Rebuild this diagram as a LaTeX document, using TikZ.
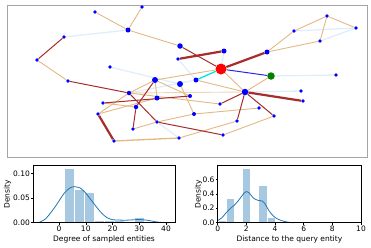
\documentclass[tikz,border=0pt]{standalone}
\usepackage{fontspec}
\setmainfont{DejaVu Sans}
\usetikzlibrary{backgrounds}
\definecolor{tanE}{RGB}{228,184,132}
\definecolor{redE}{RGB}{168,44,44}
\definecolor{lbE}{RGB}{224,237,252}
\definecolor{blueE}{RGB}{40,40,235}
\definecolor{cyanE}{RGB}{0,228,228}
\definecolor{nodeB}{RGB}{0,0,255}
\definecolor{histF}{RGB}{166,201,225}
\definecolor{kdeC}{RGB}{31,119,180}
\definecolor{frameG}{RGB}{165,165,165}
\begin{document}
\begin{tikzpicture}[x=1pt,y=-1pt,font=\fontsize{7.5}{8.5}\selectfont,
  nd/.style={circle,fill=nodeB,inner sep=0pt,minimum size=#1},
  nd/.default=3.6pt,
  te/.style={draw=tanE,line width=0.9pt},
  lte/.style={draw=tanE!60,line width=0.9pt},
  re/.style={draw=redE,line width=1pt},
  tre/.style={draw=redE,line width=2.2pt},
  le/.style={draw=lbE,line width=1.3pt},
  be/.style={draw=blueE,line width=1pt},
  ce/.style={draw=cyanE,line width=1.3pt},
  spine/.style={draw=black,line width=0.5pt},
  hbar/.style={fill=histF,draw=white,line width=0.3pt},
  kde/.style={draw=kdeC,line width=0.8pt}]
\path[use as bounding box] (0,0) rectangle (371,247);
% ---------- graph panel ----------
\draw[frameG,line width=1pt] (7,5) rectangle (367,157);
\node[nd] (A) at (142,7) {};
\node[nd] (B) at (95,12) {};
\node[nd=5pt] (C) at (128,30) {};
\node[nd] (D) at (64,37) {};
\node[nd=5.5pt] (E) at (180,46) {};
\node[nd] (F) at (178,59) {};
\node[nd] (G) at (37,60) {};
\node[nd] (H) at (110,67) {};
\node[nd] (I) at (68,81) {};
\node[nd=6pt] (J) at (155,80) {};
\node[nd=6pt] (K) at (180,84) {};
\node[nd=4.5pt] (L) at (129,93) {};
\node[nd=5pt] (M) at (157,98) {};
\node[nd] (N) at (103,103) {};
\node[nd=4.5pt] (O) at (136,107) {};
\node[nd] (P) at (98,114) {};
\node[nd] (Q) at (157,122) {};
\node[nd] (R) at (133,129) {};
\node[nd] (S) at (114,141) {};
\node[nd] (T) at (179,138) {};
\node[nd] (U) at (327,16) {};
\node[nd] (V) at (356,28) {};
\node[nd] (W) at (294,31) {};
\node[nd] (X) at (320,41) {};
\node[nd=5pt] (Y) at (224,51) {};
\node[nd=5pt] (Z) at (267,52) {};
\node[circle,fill=red,inner sep=0pt,minimum size=11pt] (Rd) at (221,69) {};
\node[circle,fill={rgb,255:red,0;green,128;blue,0},inner sep=0pt,minimum size=7.5pt] (Gn) at (271,76) {};
\node[nd] (AA) at (336,75) {};
\node[nd=5pt] (BB) at (196,80) {};
\node[nd=6.5pt] (CC) at (245,92) {};
\node[nd] (DD) at (301,91) {};
\node[nd] (EE) at (303,101) {};
\node[nd=4pt] (FF) at (190,96) {};
\node[nd] (GG) at (220,104) {};
\node[nd] (HH) at (259,108) {};
\node[nd=4pt] (II) at (194,114) {};
\node[nd] (JJ) at (237,121) {};
\node[nd] (KK) at (274,116) {};
\node[nd] (LL) at (223,135) {};
\begin{scope}[on background layer]
% light blue
\draw[le] (C) -- (D); \draw[le] (H) -- (K); \draw[le] (F) -- (BB);
\draw[le] (Rd) -- (Y); \draw[le] (W) -- (V); \draw[le] (X) -- (V);
\draw[le] (Gn) -- (AA); \draw[le] (CC) -- (DD); \draw[le] (Q) -- (T);
\draw[le] (L) -- (BB);
% tan
\draw[te] (A) -- (C); \draw[te] (B) -- (C); \draw[te] (C) -- (E);
\draw[te] (G) -- (I); \draw[te] (Rd) -- (J); \draw[te] (Rd) -- (CC);
\draw[te] (BB) -- (CC); \draw[lte] (L) -- (CC); \draw[te] (Z) -- (W);
\draw[te] (Z) -- (X); \draw[te] (W) -- (U); \draw[te] (U) -- (V);
\draw[te] (U) -- (X); \draw[te] (Gn) -- (CC); \draw[te] (II) -- (HH);
\draw[te] (T) -- (JJ); \draw[te] (LL) -- (KK); \draw[te] (L) -- (GG);
\draw[te] (J) -- (L); \draw[te] (J) -- (M); \draw[te,line width=1.3pt] (S) -- (T);
\draw[te] (R) -- (Q); \draw[te] (Q) -- (II); \draw[te] (P) -- (L);
\draw[te] (P) -- (M); \draw[te] (N) -- (O); \draw[te] (K) -- (II);
\draw[te] (J) -- (FF);
% dark red
\draw[re] (D) -- (G); \draw[re] (I) -- (L); \draw[re] (E) -- (Rd);
\draw[tre] (F) -- (Y); \draw[tre] (Rd) -- (Z); \draw[tre] (CC) -- (EE);
\draw[re] (CC) -- (GG); \draw[re] (CC) -- (JJ); \draw[re] (CC) -- (KK);
\draw[re] (Q) -- (LL); \draw[re] (N) -- (FF); \draw[re] (J) -- (O);
\draw[re] (O) -- (R); \draw[re] (L) -- (Q); \draw[tre] (P) -- (S);
% others
\draw[be] (Rd) -- (Gn); \draw[ce] (Rd) -- (BB);
\end{scope}
% ---------- left histogram ----------
\begin{scope}[shift={(59pt,-222.7pt)},x=2.675pt,y=494pt]
\filldraw[hbar] (2,0) rectangle (5.75,0.110);
\filldraw[hbar] (5.75,0) rectangle (9.5,0.0676);
\filldraw[hbar] (9.5,0) rectangle (13.25,0.0615);
\filldraw[hbar] (13.25,0) rectangle (17,0.0055);
\filldraw[hbar] (17,0) rectangle (20.75,0.0055);
\filldraw[hbar] (20.75,0) rectangle (24.5,0.0055);
\filldraw[hbar] (28.25,0) rectangle (32,0.012);
\draw[kde] plot[smooth] coordinates {(-7.7,0) (-5,0.008) (-2,0.028) (0,0.044) (2,0.060) (4,0.070) (5.7,0.073) (8,0.070) (10,0.060) (12,0.046) (14,0.032) (16,0.019) (18,0.010) (20,0.0062) (22,0.0055) (25,0.005) (28,0.006) (30,0.0065) (33,0.005) (36,0.002) (38.5,0.0005) (41,0)};
\draw[spine] (-9.72,0) rectangle (43.6,0.1154);
\foreach \v [count=\i] in {0,10,20,30,40} {
  \draw[spine] (\v,0) -- ++(0pt,-2pt);
  \node[anchor=north,inner sep=0pt] (lx\i) at ([yshift=-3pt]\v,0) {\v};
}
\foreach \d/\t [count=\i] in {0/0.00,0.05/0.05,0.10/0.10} {
  \draw[spine] (-9.72,\d) -- ++(-2pt,0pt);
  \node[anchor=east,inner sep=0pt] (ly\i) at ([xshift=-3pt]-9.72,\d) {\t};
}
\end{scope}
\node[rotate=90,inner sep=0pt] (dl) at (7.5,194.2) {Density};
\node[inner sep=0pt] (xl) at (104,239) {Degree of sampled entities};
% ---------- right histogram ----------
\begin{scope}[shift={(217.7pt,-222.7pt)},x=14.33pt,y=72.3pt]
\filldraw[hbar] (0,0) rectangle (0.5714,0.037);
\filldraw[hbar] (0.5714,0) rectangle (1.1429,0.346);
\filldraw[hbar] (1.7143,0) rectangle (2.2857,0.753);
\filldraw[hbar] (2.8571,0) rectangle (3.4286,0.52);
\filldraw[hbar] (3.4286,0) rectangle (4.0,0.083);
\draw[kde] plot[smooth] coordinates {(0,0.03) (0.3,0.07) (0.6,0.14) (0.9,0.20) (1.2,0.25) (1.5,0.32) (1.8,0.40) (2.0,0.43) (2.2,0.41) (2.5,0.34) (2.8,0.31) (3.1,0.30) (3.3,0.26) (3.6,0.16) (3.9,0.09) (4.2,0.05) (4.6,0.02) (5.0,0.005) (5.3,0)};
\draw[spine] (0,0) rectangle (10,0.79);
\foreach \v [count=\i] in {0,2,4,6,8,10} {
  \draw[spine] (\v,0) -- ++(0pt,-2pt);
  \node[anchor=north,inner sep=0pt] (rx\i) at ([yshift=-3pt]\v,0) {\v};
}
\foreach \d [count=\i] in {0.0,0.2,0.4,0.6} {
  \draw[spine] (0,\d) -- ++(-2pt,0pt);
  \node[anchor=east,inner sep=0pt] (ry\i) at ([xshift=-3pt]0,\d) {\d};
}
\end{scope}
\node[rotate=90,inner sep=0pt] (dr) at (198.5,194.2) {Density};
\node[inner sep=0pt] (xr) at (289.4,239) {Distance to the query entity};
\end{tikzpicture}
\end{document}
